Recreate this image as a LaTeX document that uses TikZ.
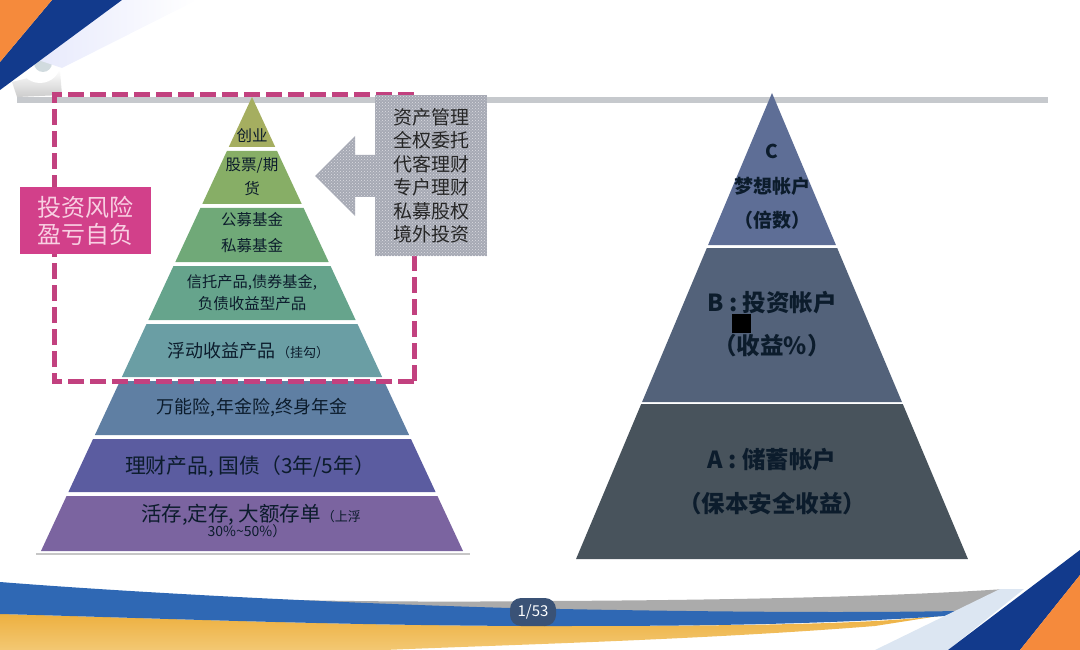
\documentclass[tikz,border=0pt]{standalone}
\usepackage{fontspec}
\setmainfont{Noto Sans CJK SC}
\usepackage{xcolor}
\usetikzlibrary{patterns}
\definecolor{pinkdash}{HTML}{C2417F}
\definecolor{pinkbox}{HTML}{D2408A}
\definecolor{pinktext}{HTML}{F8CFE2}
\definecolor{inktext}{HTML}{0C1C2C}
\definecolor{railgray}{HTML}{C6C9CD}
\definecolor{navy}{HTML}{123A8C}
\definecolor{swooshblue}{HTML}{2F68B4}
\definecolor{swooshgold}{HTML}{EDB040}
\definecolor{swooshpale}{HTML}{F3C873}
\definecolor{swooshgray}{HTML}{ABABAB}
\definecolor{cornerorange}{HTML}{F58A3C}
\definecolor{paleblue}{HTML}{DCE6F2}
\definecolor{checkgray}{HTML}{A6A9B4}
\definecolor{checkdot}{HTML}{DDDEE3}
\definecolor{badge}{HTML}{3A5276}
\newcommand{\fs}[1]{\fontsize{#1}{#1}\selectfont}
\tikzstyle{layertext} = [inner sep=0pt, align=center, text=inktext]
\tikzstyle{checker} = [preaction={fill=checkgray}, pattern=crosshatch dots, pattern color=checkdot]
\begin{document}
\begin{tikzpicture}[x=1pt, y=-1pt]
		\useasboundingbox (0,0) rectangle (1080,650);
		% top left corner
		\shade[top color=white, bottom color=gray!40] (12,82) -- (60,70) -- (62,95) -- (17,97) -- cycle;
		\fill[white] (40,62) circle (21);
		\fill[cyan!20!gray!35!white] (43,63) circle (9);
		\shade[left color=paleblue!80!blue!30, right color=white] (122,0) -- (197,0) -- (62,68) -- (38,60) -- cycle;
		\fill[navy] (52,0) -- (122,0) -- (0,90) -- (0,62) -- cycle;
		\fill[cornerorange] (0,0) -- (52,0) -- (0,62) -- cycle;
		% rail
		\fill[railgray] (17,97) rectangle (1048,103);
		% bottom bands
		\fill[swooshgray] (207,598) .. controls (350,602) and (450,602) .. (551,601) .. controls (750,600) and (900,596) .. (1005,589) -- (957,612) -- (500,612) -- cycle;
		\shade[top color=swooshgold, bottom color=swooshpale] (0,614) .. controls (150,618) and (350,626) .. (551,626) .. controls (750,626) and (880,624) .. (945,615) -- (875,626) .. controls (700,640) and (500,645) .. (385,650) -- (0,650) -- cycle;
		\fill[swooshblue] (0,582) .. controls (100,590) and (300,602) .. (510,608) .. controls (700,612) and (850,613) .. (957,611) -- (945,616) .. controls (800,626) and (650,626) .. (551,626) .. controls (350,626) and (150,618) .. (0,614) -- cycle;
		% bottom right corner
		\fill[paleblue] (875,650) -- (1000,589) -- (1024,589) -- (948,650) -- cycle;
		\fill[navy] (948,650) -- (1080,550) -- (1080,575) -- (1020,650) -- cycle;
		\fill[cornerorange] (1020,650) -- (1080,575) -- (1080,650) -- cycle;
		% left pyramid
		\fill[gray!45] (36,553) rectangle (470,555);
		\foreach \ytop/\ybot/\col in {97/147/A5AE60, 151/204/87AE66, 208/262/70A978, 266/320/66A48C, 324/377/6A9EA4, 381/435/5F7FA3, 439/492/5B5CA0, 496/551/7B64A0} {
			\definecolor{layercol}{HTML}{\col}
			\fill[layercol] ({252-(\ytop-97)*0.4648},\ytop) -- ({252+(\ytop-97)*0.4648},\ytop) -- ({252+(\ybot-97)*0.4648},\ybot) -- ({252-(\ybot-97)*0.4648},\ybot) -- cycle;
		}
		\node (Venture)[layertext, font=\fs{15.5}] at (252,136){创业};
		\node (Stock)[layertext, font=\fs{15.5}] at (252,165){股票/期};
		\node (Futures)[layertext, font=\fs{15.5}] at (252,189){货};
		\node (PublicFund)[layertext, font=\fs{15.5}] at (252,220){公募基金};
		\node (PrivateFund)[layertext, font=\fs{15.5}] at (252,246){私募基金};
		\node (Trust)[layertext, font=\fs{15.2}] at (252,282){信托产品,债券基金,};
		\node (Debt)[layertext, font=\fs{15.5}] at (252,304){负债收益型产品};
		\node (Floating)[layertext, font=\fs{18}] at (248,351){浮动收益产品\hspace{2pt}{\fs{13}（挂勾）}};
		\node (Insurance)[layertext, font=\fs{18}] at (252,408){万能险,年金险,终身年金};
		\node (Bond)[layertext, font=\fs{20.8}] at (250,467){理财产品, 国债（3年/5年）};
		\node (Deposit)[layertext, font=\fs{20.5}] at (251,515){活存,定存, 大额存单\hspace{1pt}{\fs{13}（上浮}};
		\node (Float)[layertext, font=\fs{14}] at (247,531){30\%\textasciitilde50\%）};
		% risk frame
		\draw[pinkdash, line width=5pt, dash pattern=on 16pt off 6pt] (414,381) -- (54,381) -- (54,95) -- (414,95) -- (414,381);
		\node (Risk)[fill=pinkbox, text=pinktext, minimum width=131pt, minimum height=67pt, inner sep=0pt, align=center, font=\fs{24}, anchor=north west] at (20,187){投资风险\\[3pt]盈亏自负};
		% products box and arrow
		\path[checker] (315,176) -- (355,136) -- (355,155) -- (376,155) -- (376,197) -- (355,197) -- (355,216) -- cycle;
		\node (Products)[checker, minimum width=112pt, minimum height=161pt, inner sep=0pt, anchor=north west] at (375,95){};
		\node (ProductsText)[layertext, font=\fs{19}, text=black!85] at (Products.center){资产管理\\[4.5pt]全权委托\\[4.5pt]代客理财\\[4.5pt]专户理财\\[4.5pt]私募股权\\[4.5pt]境外投资};
		% right pyramid
		\foreach \ytop/\ybot/\col in {93/245/5E6E96, 248/402/53627A, 404/559/48535C} {
			\definecolor{layercol}{HTML}{\col}
			\fill[layercol] ({772-(\ytop-93)*0.4205},\ytop) -- ({772+(\ytop-93)*0.4205},\ytop) -- ({772+(\ybot-93)*0.4205},\ybot) -- ({772-(\ybot-93)*0.4205},\ybot) -- cycle;
		}
		\node (DreamC)[layertext, font=\fs{19}\bfseries] at (772,151){C};
		\node (Dream)[layertext, font=\fs{19}\bfseries] at (772,186){梦想帐户};
		\node (Times)[layertext, font=\fs{19}\bfseries] at (772,220){（倍数）};
		\node (Invest)[layertext, font=\fs{23.5}\bfseries] at (772,303){B : 投资帐户};
		\node (Mark)[fill=black, minimum size=19pt, inner sep=0pt] at (741.5,323.5){};
		\node (Yield)[layertext, font=\fs{23.5}\bfseries] at (772,346){（收益\%）};
		\node (Save)[layertext, font=\fs{23.5}\bfseries] at (772,460){A : 储蓄帐户};
		\node (Safe)[layertext, font=\fs{23.5}\bfseries] at (772,504){（保本安全收益）};
		% page badge
		\node (Page)[fill=badge, text=white, rounded corners=11pt, minimum width=46pt, minimum height=28pt, inner sep=0pt, font=\fs{15}] at (533,612){1/53};
	\end{tikzpicture}
\end{document}
